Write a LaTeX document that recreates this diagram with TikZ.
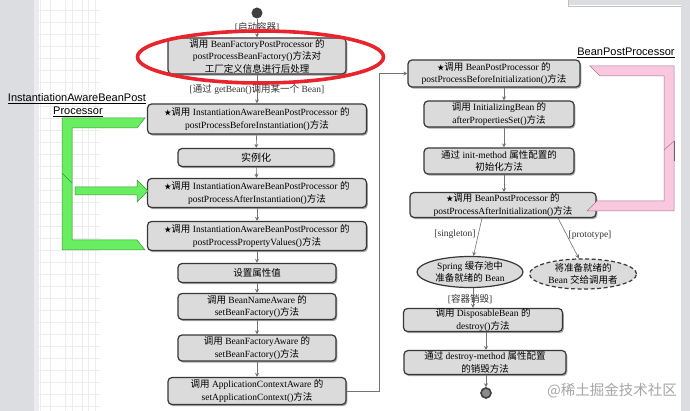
\documentclass[tikz,border=0pt]{standalone}
\usepackage{fontspec}
\setmainfont{Liberation Serif}
\newfontfamily\cjk{Noto Sans CJK SC}
\newfontfamily\lsans{Liberation Sans}
\usetikzlibrary{shapes.geometric,arrows.meta,shadows}
\newcommand{\zh}[1]{{\cjk #1}}
\newcommand{\st}{{\cjk\fontsize{7}{7}\selectfont ★}}
\definecolor{bgside}{RGB}{220,221,225}
\definecolor{bgedge}{RGB}{236,236,238}
\definecolor{gfill}{RGB}{104,238,96}
\definecolor{gline}{RGB}{60,150,60}
\definecolor{pfill}{RGB}{250,200,222}
\definecolor{pline}{RGB}{170,120,140}
\definecolor{redring}{RGB}{232,36,44}
\begin{document}
\begin{tikzpicture}[x=1pt,y=-1pt,
  box/.style={draw=black!78, line width=1.2pt, rounded corners=4pt, fill=black!14,
    align=center, inner sep=0pt, font=\fontsize{9.5}{12.5}\selectfont,
    drop shadow={shadow xshift=1.3pt, shadow yshift=-1.6pt, fill=black!50, opacity=0.7}},
  ell/.style={ellipse, draw=black!78, line width=1.2pt, fill=black!14,
    align=center, inner sep=0pt, font=\fontsize{9.5}{12.5}\selectfont},
  arr/.style={draw=black!55, line width=0.6pt, -{Stealth[length=4pt,width=4pt]}},
  lab/.style={font=\fontsize{9.5}{11}\selectfont, text=black!80, inner sep=1pt},
  sanslab/.style={font=\lsans\fontsize{11}{12}\selectfont, inner sep=0pt}
]
\useasboundingbox (0,0) rectangle (690,411);
% background
\fill[white] (0,0) rectangle (690,411);
\fill[bgside] (0,0) rectangle (34,411);
\fill[bgedge] (34,0) rectangle (39,411);
\fill[bgside] (681,0) rectangle (690,411);
\fill[bgside] (568,0) rectangle (681,5);
\draw[black!25, line width=0.6pt] (568,0) -- (568,6) -- (681,6);
% faint grid
\foreach \gx in {40,50,65,72,82,88,95} \draw[black!7, line width=0.4pt] (\gx,0) -- (\gx,411);
\foreach \gy in {10,22,...,410} \draw[black!7, line width=0.4pt] (39,\gy) -- (100,\gy);

% left column
\node[circle, fill=black!75, minimum size=11pt, inner sep=0pt] (start) at (257,13) {};
\node[box, minimum width=178pt, minimum height=36pt] (b1) at (257,56)
  {\zh{调用} BeanFactoryPostProcessor \zh{的}\\postProcessBeanFactory()\zh{方法对}\\\zh{工厂定义信息进行后处理}};
\node[box, minimum width=219pt, minimum height=30pt] (b2) at (257,119)
  {\st\zh{调用} InstantiationAwareBeanPostProcessor \zh{的}\\postProcessBeforeInstantiation()\zh{方法}};
\node[box, minimum width=156pt, minimum height=18pt, font=\cjk\fontsize{10}{12}\selectfont] (b3) at (256,157.5) {实例化};
\node[box, minimum width=219pt, minimum height=29pt] (b4) at (257,193)
  {\st\zh{调用} InstantiationAwareBeanPostProcessor \zh{的}\\postProcessAfterInstantiation()\zh{方法}};
\node[box, minimum width=219pt, minimum height=29pt] (b5) at (257,236)
  {\st\zh{调用} InstantiationAwareBeanPostProcessor \zh{的}\\postProcessPropertyValues()\zh{方法}};
\node[box, minimum width=158pt, minimum height=19pt, font=\cjk\fontsize{9.5}{12}\selectfont] (b6) at (257,273) {设置属性值};
\node[box, minimum width=158pt, minimum height=26pt] (b7) at (257,306.5)
  {\zh{调用} BeanNameAware \zh{的}\\setBeanFactory()\zh{方法}};
\node[box, minimum width=158pt, minimum height=26pt] (b8) at (257,348)
  {\zh{调用} BeanFactoryAware \zh{的}\\setBeanFactory()\zh{方法}};
\node[box, minimum width=178pt, minimum height=27pt] (b9) at (257,391)
  {\zh{调用} ApplicationContextAware \zh{的}\\setApplicationContext()\zh{方法}};

% right column
\node[box, minimum width=172pt, minimum height=27pt] (b10) at (494,73.5)
  {\st\zh{调用} BeanPostProcessor \zh{的}\\postProcessBeforeInitialization()\zh{方法}};
\node[box, minimum width=150pt, minimum height=26pt] (b11) at (499,114)
  {\zh{调用} InitializingBean \zh{的}\\afterPropertiesSet()\zh{方法}};
\node[box, minimum width=150pt, minimum height=26pt] (b12) at (499,161)
  {\zh{通过} init-method \zh{属性配置的}\\\zh{初始化方法}};
\node[box, minimum width=186pt, minimum height=25pt] (b13) at (503,205)
  {\st\zh{调用} BeanPostProcessor \zh{的}\\postProcessAfterInitialization()\zh{方法}};
\node[ell, minimum width=106pt, minimum height=31pt] (e1) at (470,272)
  {Spring \zh{缓存池中}\\\zh{准备就绪的} Bean};
\node[ell, dashed, dash pattern=on 4pt off 2.5pt, minimum width=107pt, minimum height=28pt] (e2) at (583,274)
  {\zh{将准备就绪的}\\Bean \zh{交给调用者}};
\node[box, minimum width=159pt, minimum height=23pt] (b14) at (483,320)
  {\zh{调用} DisposableBean \zh{的}\\destroy()\zh{方法}};
\node[box, minimum width=162pt, minimum height=24pt] (b15) at (485,362.5)
  {\zh{通过} destroy-method \zh{属性配置}\\\zh{的销毁方法}};
\node[circle, draw=black!75, line width=1.6pt, fill=black!45, minimum size=10pt, inner sep=0pt] (end) at (486,393) {};

% helper coordinates
\coordinate (rx) at (504,0);
\coordinate (s1) at (482,0);
\coordinate (s3) at (558,0);
\coordinate (c14) at (473,0);
\coordinate (c15) at (486,0);

% connectors left
\draw[arr] (start) -- (b1);
\node[lab] (l1) at (257,27) {[\zh{启动容器}]};
\draw[arr] (b1) -- (b2);
\node[lab] (l2) at (257,90) {[\zh{通过} getBean()\zh{调用某一个} Bean]};
\draw[arr] (b2) -- (b3);
\draw[arr] (b3) -- (b4);
\draw[arr] (b4) -- (b5);
\draw[arr] (b5) -- (b6);
\draw[arr] (b6) -- (b7);
\draw[arr] (b7) -- (b8);
\draw[arr] (b8) -- (b9);
\draw[arr] (b9.east) -- (379,391) |- (b10.west);
% connectors right
\draw[arr] (b10.south -| rx) -- (b11.north -| rx);
\draw[arr] (b11.south -| rx) -- (b12.north -| rx);
\draw[arr] (b12.south -| rx) -- (b13.north -| rx);
\draw[arr] (b13.south -| s1) -- (e1.78);
\node[lab] (l3) at (455,234) {[singleton]};
\draw[arr] (b13.south -| s3) -- (e2.105);
\node[lab] (l4) at (590,235) {[prototype]};
\draw[arr] (e1.south -| c14) -- (b14.north -| c14);
\node[lab] (l5) at (470,299) {[\zh{容器销毁}]};
\draw[arr] (b14.south -| c15) -- (b15.north -| c15);
\draw[arr] (b15.south -| end) -- (end);

% red highlight ring
\draw[redring, line width=3.6pt] (260.5,57) ellipse [x radius=123pt, y radius=26pt];

% green bracket
\filldraw[fill=gfill, draw=gline, line width=0.5pt]
  (62,118) -- (145,118) -- (137,128) -- (72,128) -- (72,240) -- (137,240) -- (145,250) -- (62,250) -- cycle;
\draw[gline, line width=0.5pt] (62,173) -- (72,183);
\filldraw[fill=gfill, draw=gline, line width=0.5pt]
  (75,187) -- (137,187) -- (137,180) -- (148,191) -- (137,202) -- (137,195) -- (75,195) -- cycle;
\node[sanslab] (gl1) at (77,99) {\underline{InstantiationAwareBeanPost}};
\node[sanslab] (gl2) at (78,112) {\underline{Processor}};

% pink bracket
\filldraw[fill=pfill, draw=pline, line width=0.5pt]
  (590,66) -- (674,66) -- (674,211) -- (587,211) -- (597,201) -- (664,201) -- (664,76) -- (600,76) -- cycle;
\draw[pline, line width=0.5pt] (664,150) -- (674,141);
\draw[black!60, line width=1pt] (674.5,141) -- (674.5,161);
\node[sanslab] (pl) at (626,53) {\underline{BeanPostProcessor}};

% watermark
\node[font=\cjk\fontsize{14.5}{15}\selectfont, text=black!35, inner sep=0pt] (wm) at (612,391) {@稀土掘金技术社区};
\end{tikzpicture}
\end{document}
